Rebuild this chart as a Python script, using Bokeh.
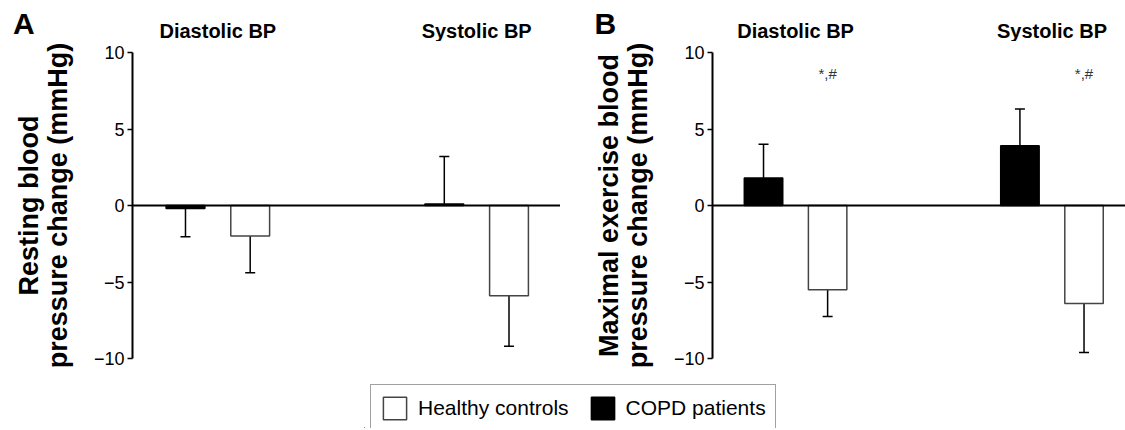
from bokeh.plotting import figure
from bokeh.models import (ColumnDataSource, Range1d, Span, Whisker, TeeHead, Label,
                          Legend, LegendItem, FixedTicker)
from bokeh.layouts import column, row
from bokeh.embed import file_html
from bokeh.resources import INLINE

# ---------------- data ----------------
groups = ["Diastolic BP", "Systolic BP"]
group_pos = [1.5, 5.5]
bar_pos = [1, 2, 5, 6]
bar_series = ["COPD patients", "Healthy controls", "COPD patients", "Healthy controls"]

resting_mean = [-0.2, -2.0, 0.1, -5.9]
resting_err = [1.85, 2.4, 3.1, 3.3]

exercise_mean = [1.8, -5.5, 3.9, -6.4]
exercise_err = [2.2, 1.75, 2.4, 3.2]

sig_pos = [2, 6]
sig_y = [8.6, 8.6]
sig_text = ["*,#", "*,#"]

y_ticks = [-10, -5, 0, 5, 10]
y_tick_labels = {-10: "\u221210", -5: "\u22125", 0: "0", 5: "5", 10: "10"}

legend_labels = ["Healthy controls", "COPD patients"]

FONT = "Liberation Sans"
fill_map = {"COPD patients": "black", "Healthy controls": "white"}
line_map = {"COPD patients": "black", "Healthy controls": "#444444"}

FRAME_H = 306
HEADER_H = 41
FRAME_TOP = 52


def header(letter, width, border_left, frame_w, x_start, x_end, letter_px):
    ppu = frame_w / (x_end - x_start)
    hx0 = x_start - border_left / ppu
    h = figure(width=width, height=HEADER_H, x_range=Range1d(hx0, x_end),
               y_range=Range1d(0, HEADER_H), x_axis_location=None, y_axis_location=None,
               toolbar_location=None, output_backend="svg", outline_line_color=None,
               min_border_left=0, min_border_right=0, min_border_top=0, min_border_bottom=0)
    h.grid.visible = False
    for g, gx in zip(groups, group_pos):
        h.add_layout(Label(x=gx, y=HEADER_H - 30, text=g, text_align="center",
                           text_baseline="middle", text_font=FONT,
                           text_font_style="bold", text_font_size="20px",
                           text_color="black"))
    h.add_layout(Label(x=hx0 + letter_px / ppu, y=HEADER_H - 23, text=letter,
                       text_align="left", text_baseline="middle",
                       text_font=FONT, text_font_style="bold",
                       text_font_size="30px", text_color="black"))
    return h


def panel(means, errs, ylabel, frame_w, border_left, x_start, x_end, sig=False):
    p = figure(frame_width=frame_w, frame_height=FRAME_H,
               min_border_left=border_left, min_border_right=0,
               min_border_top=FRAME_TOP - HEADER_H, min_border_bottom=20,
               x_range=Range1d(x_start, x_end), y_range=Range1d(-10, 10),
               x_axis_location=None, toolbar_location=None,
               output_backend="svg", outline_line_color=None)
    p.grid.visible = False

    tips = [m + (e if m >= 0 else -e) for m, e in zip(means, errs)]
    src = ColumnDataSource(dict(
        x=bar_pos, top=means, tip=tips,
        fill=[fill_map[s] for s in bar_series],
        line=[line_map[s] for s in bar_series]))

    p.add_layout(Whisker(source=src, base="x", lower="top", upper="tip",
                         dimension="height", line_color="black", line_width=1.5,
                         upper_head=TeeHead(size=10, line_color="black", line_width=1.5),
                         lower_head=None, level="underlay"))
    p.vbar(x="x", top="top", bottom=0, width=0.6, source=src,
           fill_color="fill", line_color="line", line_width=1.5)

    p.add_layout(Span(location=0, dimension="width", line_color="black", line_width=2))

    ax = p.yaxis[0]
    ax.ticker = FixedTicker(ticks=y_ticks)
    ax.major_label_overrides = y_tick_labels
    ax.minor_tick_line_color = None
    ax.major_tick_in = 0
    ax.major_tick_out = 5
    ax.major_tick_line_width = 1.5
    ax.axis_line_width = 2
    ax.major_label_standoff = 3
    ax.major_label_text_font = FONT
    ax.major_label_text_font_size = "18px"
    ax.major_label_text_color = "black"
    ax.axis_label = ylabel
    ax.axis_label_text_font = FONT
    ax.axis_label_text_font_style = "bold"
    ax.axis_label_text_font_size = "27px"
    ax.axis_label_text_line_height = 0.95
    ax.axis_label_text_color = "black"
    ax.axis_label_standoff = 18

    if sig:
        for sx, sy, st in zip(sig_pos, sig_y, sig_text):
            p.add_layout(Label(x=sx, y=sy, text=st, text_align="center",
                               text_baseline="middle", text_font=FONT,
                               text_font_size="15px", text_color="#333333"))
    return p


A_W, A_BL, A_FW, A_X0, A_X1 = 560, 132, 428, 0.181, 6.796
B_W, B_BL, B_FW, B_X0, B_X1 = 565, 152, 413, 0.204, 6.647

hA = header("A", A_W, A_BL, A_FW, A_X0, A_X1, 12.5)
hB = header("B", B_W, B_BL, B_FW, B_X0, B_X1, 34)
pA = panel(resting_mean, resting_err, "Resting blood\npressure change (mmHg)",
           A_FW, A_BL, A_X0, A_X1)
pB = panel(exercise_mean, exercise_err, "Maximal exercise blood\npressure change (mmHg)",
           B_FW, B_BL, B_X0, B_X1, sig=True)

# legend strip (legend glyphs need renderers with data; they sit outside the view)
L = figure(width=1125, height=50, x_range=Range1d(100, 101), y_range=Range1d(100, 101),
           x_axis_location=None, y_axis_location=None, toolbar_location=None,
           output_backend="svg", outline_line_color=None,
           min_border_left=364, min_border_right=0, min_border_top=0, min_border_bottom=0)
L.grid.visible = False
r_h = L.vbar(x=bar_pos, top=resting_mean, width=0.5, fill_color=fill_map["Healthy controls"],
             line_color=line_map["Healthy controls"], line_width=1.5)
r_c = L.vbar(x=bar_pos, top=resting_mean, width=0.5, fill_color=fill_map["COPD patients"],
             line_color=line_map["COPD patients"], line_width=1.5)
leg = Legend(items=[LegendItem(label=legend_labels[0], renderers=[r_h]),
                    LegendItem(label=legend_labels[1], renderers=[r_c])],
             orientation="horizontal", location="top_left", margin=6, padding=9,
             spacing=19, glyph_width=29, glyph_height=28, label_standoff=9,
             label_text_font=FONT, label_text_font_size="21px",
             label_text_color="black",
             border_line_color="#444444", border_line_width=1.5)
L.add_layout(leg)

layout = column(row(hA, hB, spacing=0), row(pA, pB, spacing=0), L, spacing=0)
open("out.html", "w").write(file_html(layout, INLINE))
